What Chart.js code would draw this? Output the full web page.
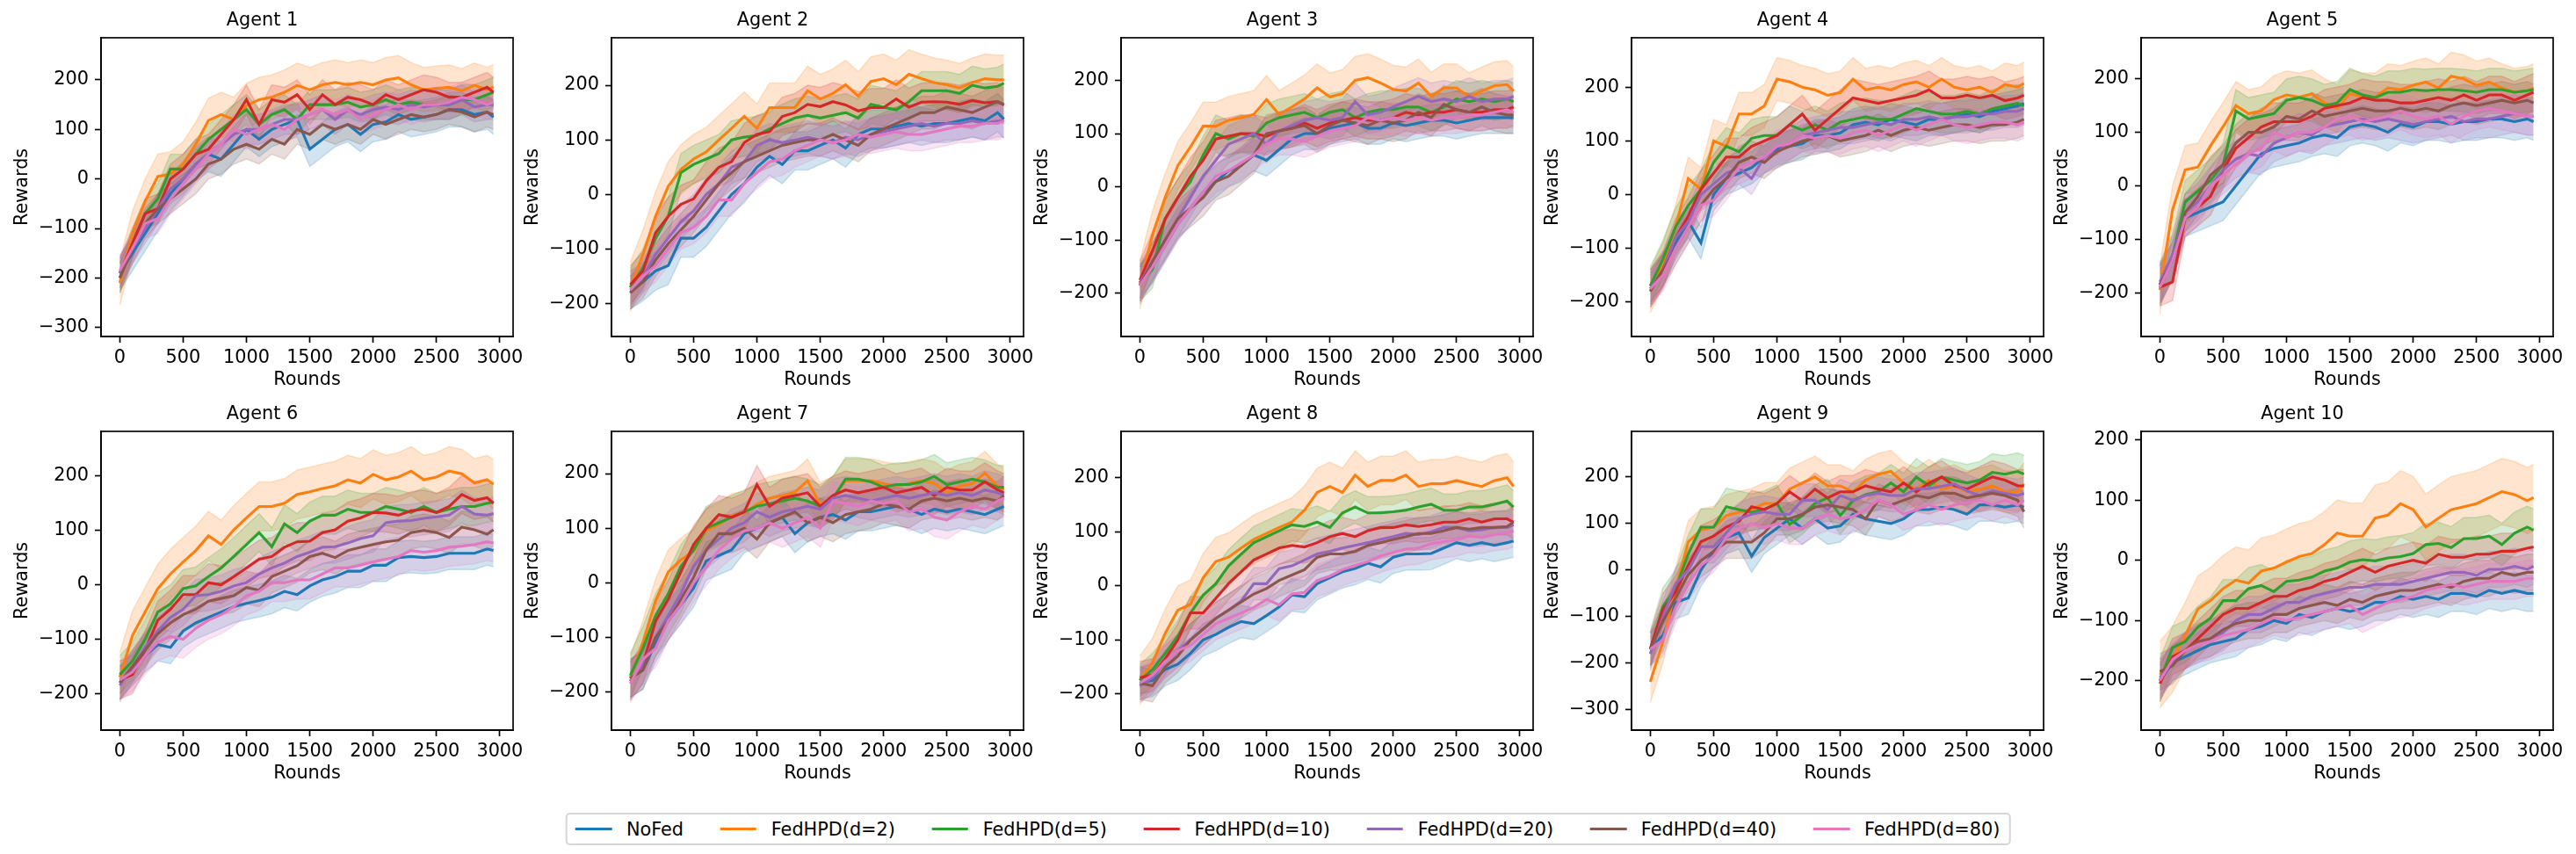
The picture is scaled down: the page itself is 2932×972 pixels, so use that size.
<!DOCTYPE html>
<html>
<head>
<meta charset="utf-8">
<script src="https://cdn.jsdelivr.net/npm/chart.js@4.4.1/dist/chart.umd.min.js"></script>
<style>
  html, body { margin: 0; padding: 0; background: #fff; }
  #page { position: relative; width: 2932px; height: 972px; overflow: hidden; background: #fff; }
  #page canvas { position: absolute; }
  #legend {
    position: absolute; top: 925px; left: 50%; transform: translateX(-50%);
    height: 33px; padding: 0 10px 0 9px; display: flex; align-items: center;
    border: 2px solid #d6d6d6; border-radius: 5px; background: #fff;
    font-family: "DejaVu Sans", sans-serif; font-size: 20.8px; color: #000; white-space: nowrap;
  }
  .item { display: flex; align-items: center; margin-right: 41.6px; }
  .item:last-child { margin-right: 0; }
  .swatch { width: 41.6px; height: 3px; margin-right: 16.6px; }
</style>
</head>
<body>
<div id="page">
  <div id="legend"></div>
</div>
<script>
// x positions (rounds) shared by every series
const rounds = [0,100,200,300,400,500,600,700,800,900,1000,1100,1200,1300,1400,1500,1600,1700,1800,1900,2000,2100,2200,2300,2400,2500,2600,2700,2800,2900,2950];

const seriesNames = ['NoFed', 'FedHPD(d=2)', 'FedHPD(d=5)', 'FedHPD(d=10)', 'FedHPD(d=20)', 'FedHPD(d=40)', 'FedHPD(d=80)'];
const seriesColors = ['#1f77b4', '#ff7f0e', '#2ca02c', '#d62728', '#9467bd', '#8c564b', '#e377c2'];

const agentTitles = ['Agent 1', 'Agent 2', 'Agent 3', 'Agent 4', 'Agent 5', 'Agent 6', 'Agent 7', 'Agent 8', 'Agent 9', 'Agent 10'];
const yMins = [-318, -260, -281, -264, -282, -267, -270, -267, -344, -282];
const yMaxs = [285, 287, 280, 292, 277, 282, 277.5, 286, 298, 214];
const xTicks = [0, 500, 1000, 1500, 2000, 2500, 3000];
const yTicksWide = [-300, -200, -100, 0, 100, 200];
const yTicksMid = [-200, -100, 0, 100, 200];
const yTickSets = [yTicksWide, yTicksMid, yTicksMid, yTicksMid, yTicksMid, yTicksMid, yTicksMid, yTicksMid, yTicksWide, yTicksMid];

// mean rewards, one row per series (NoFed, d=2, d=5, d=10, d=20, d=40, d=80)
const agent1 = [
  [-190,-150,-110,-70,-30,0,30,50,40,70,100,80,100,110,120,60,80,100,110,90,110,115,130,120,125,130,140,140,130,135,125],
  [-210,-110,-45,5,10,30,70,118,130,120,148,160,165,175,189,180,190,195,190,195,190,200,204,190,180,183,185,178,189,180,186],
  [-200,-130,-70,-40,20,20,50,80,100,120,140,110,130,140,120,150,150,150,155,145,150,160,150,155,150,150,150,160,160,170,175],
  [-190,-130,-70,-60,0,20,50,60,90,120,160,110,160,155,170,140,170,150,165,160,150,170,160,170,180,175,165,165,175,185,175],
  [-190,-140,-100,-60,-20,0,30,50,70,90,100,100,110,120,120,130,140,120,140,130,140,145,140,150,145,150,150,160,145,150,150],
  [-200,-140,-90,-60,-40,-20,0,30,40,60,70,60,80,70,100,90,110,100,110,100,120,110,120,130,125,130,140,135,125,135,130],
  [-185,-140,-90,-80,-40,-10,20,50,70,100,90,100,110,100,120,130,140,130,140,120,130,140,150,140,150,150,155,165,160,150,155]
];
const agent2 = [
  [-175,-160,-140,-130,-80,-80,-60,-30,0,20,50,70,55,80,80,90,100,85,110,120,120,125,130,125,130,130,135,140,135,150,138],
  [-170,-110,-40,15,46,65,78,100,121,143,121,159,159,159,190,175,185,201,180,207,212,201,220,212,205,201,195,205,212,210,210],
  [-170,-135,-80,-40,40,55,65,75,100,105,108,120,130,140,145,140,145,150,140,165,160,155,170,190,190,190,185,200,195,198,204],
  [-165,-140,-70,-40,-18,-8,25,50,60,95,110,115,143,150,165,161,170,164,153,159,159,175,160,169,170,169,165,172,168,170,164],
  [-180,-150,-110,-80,-50,-30,0,20,50,60,90,100,95,100,105,100,95,105,100,110,115,120,125,130,125,130,130,135,130,135,135],
  [-180,-160,-120,-90,-65,-40,-10,20,40,60,70,80,90,95,100,100,110,100,90,110,120,130,140,150,150,160,155,150,160,170,165],
  [-175,-150,-130,-100,-70,-60,-40,-10,-10,20,40,60,65,80,90,100,95,100,110,105,110,115,110,110,115,120,125,125,130,130,135]
];
const agent3 = [
  [-180,-150,-110,-70,-40,-10,10,30,40,60,50,70,90,100,100,110,115,120,110,110,120,115,120,125,125,120,125,130,130,130,130],
  [-185,-90,-20,40,75,114,114,125,130,136,164,136,150,165,186,169,175,200,205,195,183,180,195,170,186,186,169,180,190,192,180],
  [-180,-155,-60,-20,10,60,100,90,100,95,120,130,135,140,130,140,145,130,140,145,145,150,150,140,150,165,160,165,160,165,160],
  [-175,-120,-60,-20,20,50,90,95,100,100,95,105,110,120,110,120,125,130,125,125,130,140,135,140,140,145,140,140,145,145,150],
  [-180,-140,-100,-60,-20,20,50,80,90,100,80,105,115,125,130,125,130,160,135,140,150,160,170,160,165,160,170,160,165,165,170],
  [-185,-140,-100,-60,-40,-20,10,20,40,60,100,105,110,115,100,115,125,120,115,125,120,125,140,130,155,145,140,150,140,135,135],
  [-185,-150,-110,-70,-40,-10,20,30,45,60,80,90,90,85,95,105,110,115,130,125,130,125,130,125,130,130,135,135,140,145,140]
];
const agent4 = [
  [-170,-140,-90,-50,-90,0,30,40,50,70,85,90,95,110,110,115,130,135,130,140,135,130,140,140,145,150,145,155,160,165,170],
  [-180,-130,-60,30,10,100,90,150,150,165,215,210,200,195,185,190,215,195,200,195,205,210,200,215,200,195,200,190,205,200,207],
  [-170,-120,-60,-20,10,60,90,80,105,110,110,130,120,130,120,135,140,145,140,140,150,160,155,150,150,155,150,160,165,170,165],
  [-175,-140,-80,-40,10,40,70,70,90,100,110,130,150,120,140,160,180,175,170,175,180,185,195,180,180,185,180,185,175,180,185],
  [-175,-140,-80,-50,0,20,40,50,30,70,80,95,110,115,120,125,125,130,135,130,140,140,145,140,145,145,150,150,155,155,160],
  [-180,-140,-100,-60,-20,10,30,60,70,60,80,90,100,105,110,100,105,110,120,110,120,125,120,125,130,130,125,130,130,135,140],
  [-175,-150,-100,-60,-20,-10,20,50,60,70,90,95,110,105,110,105,115,120,110,120,130,120,130,140,130,125,130,135,135,130,135]
];
const agent5 = [
  [-185,-140,-60,-50,-40,-30,0,30,60,70,75,80,90,95,90,110,115,110,100,115,110,120,120,115,120,120,125,125,120,125,120],
  [-195,-45,30,35,75,111,150,135,140,161,170,166,172,155,145,172,166,166,183,180,188,194,183,205,200,188,194,183,175,178,183],
  [-185,-130,-30,-10,10,40,140,125,130,135,160,165,160,150,155,180,170,165,175,175,180,178,180,180,178,175,180,180,175,178,180],
  [-190,-180,-60,-40,-20,30,70,90,110,120,120,120,130,145,150,155,165,160,160,155,155,160,165,160,170,160,170,170,160,170,175],
  [-180,-130,-50,-30,0,30,50,60,55,80,90,100,95,110,115,120,125,120,125,120,115,120,125,130,120,125,125,130,135,130,130],
  [-185,-140,-50,-20,20,40,80,100,100,110,130,125,140,130,135,140,145,140,140,145,140,145,140,150,155,150,155,160,155,160,155],
  [-190,-140,-60,-40,0,20,40,60,70,100,90,100,100,110,125,130,120,125,130,140,130,125,130,115,130,140,145,140,135,130,130]
];
const agent6 = [
  [-180,-155,-130,-110,-115,-85,-70,-60,-50,-40,-34,-29,-23,-12,-18,-2,9,15,25,25,36,36,50,52,50,52,58,58,58,66,63],
  [-170,-93,-50,-7,20,42,63,90,74,101,123,144,144,150,166,171,177,182,193,187,203,193,198,209,193,198,209,204,187,193,185],
  [-165,-140,-100,-50,-35,-7,-2,15,31,52,74,96,70,112,96,117,128,128,139,133,133,144,139,133,144,133,139,144,144,150,152],
  [-175,-165,-120,-65,-45,-18,-18,4,0,15,31,47,52,69,79,80,96,101,117,123,133,132,128,136,139,133,144,166,155,160,150],
  [-185,-150,-115,-85,-60,-45,-20,-18,-12,-2,4,20,31,40,52,60,69,70,77,85,90,114,117,118,122,125,128,144,130,128,131],
  [-180,-150,-120,-90,-70,-55,-45,-30,-25,-20,-5,-10,15,25,35,52,58,50,63,69,74,79,82,96,100,96,87,106,101,93,101],
  [-175,-160,-130,-105,-95,-100,-80,-65,-55,-40,-20,-12,4,4,9,9,20,31,31,36,42,47,52,63,60,63,69,71,74,79,77]
];
const agent7 = [
  [-175,-160,-110,-70,-40,-10,40,50,60,90,100,110,120,90,110,120,125,115,130,130,135,140,135,125,135,130,135,130,125,135,140],
  [-175,-109,-33,20,42,58,96,107,123,128,144,155,160,166,187,144,155,187,187,187,182,177,182,187,182,166,177,182,201,177,171],
  [-170,-120,-60,-20,30,60,100,110,120,130,140,145,150,155,150,140,155,190,190,185,175,180,180,185,195,180,185,190,185,175,175],
  [-180,-150,-70,-30,20,70,100,125,120,130,180,140,155,160,165,140,160,170,165,170,175,165,170,175,160,175,170,170,185,170,165],
  [-180,-150,-100,-60,-20,30,60,80,100,110,130,120,130,135,140,135,155,160,155,150,155,160,155,160,165,160,165,160,170,165,160],
  [-175,-160,-100,-70,-30,10,60,90,90,100,80,110,120,130,110,120,110,125,130,135,145,140,135,150,155,150,155,150,155,150,160],
  [-185,-140,-120,-70,-40,0,30,60,80,95,100,110,100,110,120,100,150,145,140,150,145,150,130,135,120,115,130,140,135,150,155]
];
const agent8 = [
  [-180,-175,-155,-145,-125,-100,-90,-77,-66,-70,-55,-39,-17,-20,4,15,26,32,42,35,53,59,59,60,70,80,75,80,75,80,83],
  [-175,-142,-88,-45,-34,15,45,53,70,86,97,108,118,140,173,184,173,205,184,195,195,205,184,189,189,195,189,184,195,200,184],
  [-175,-155,-125,-93,-50,-17,4,37,59,80,91,102,113,110,118,108,135,146,135,135,137,140,146,151,140,140,146,146,151,157,146],
  [-170,-165,-135,-100,-50,-50,-23,4,26,48,59,70,75,72,80,91,97,91,102,108,108,113,110,113,118,118,124,118,124,124,118],
  [-185,-170,-140,-120,-100,-80,-60,-45,-28,4,4,32,37,48,59,64,70,75,80,86,91,97,95,100,108,108,102,104,108,108,113],
  [-180,-185,-150,-130,-100,-80,-60,-45,-30,-15,-5,10,20,30,53,59,59,64,75,80,86,91,97,97,102,108,105,108,108,110,118],
  [-180,-165,-140,-120,-110,-90,-70,-60,-50,-40,-25,-35,-15,-12,10,18,30,38,45,55,62,68,70,78,82,85,92,90,95,98,102]
];
const agent9 = [
  [-170,-140,-70,-60,0,40,70,80,30,70,90,110,90,110,90,95,120,110,105,100,110,130,130,135,130,120,140,140,135,140,135],
  [-240,-154,-40,61,86,92,117,124,130,143,143,174,187,200,181,181,168,193,206,212,187,174,193,174,181,168,174,181,168,168,185],
  [-170,-78,-40,35,92,92,136,130,124,130,143,98,117,143,155,117,149,162,168,187,168,200,181,200,193,187,193,210,206,212,206],
  [-170,-85,-47,10,61,73,92,105,136,130,143,168,149,174,155,168,168,181,174,168,187,168,187,200,181,174,187,200,193,181,181],
  [-180,-100,-30,0,50,50,80,110,120,125,120,120,150,150,130,160,150,160,165,160,160,175,175,180,185,170,160,170,165,160,165],
  [-170,-110,-60,-10,20,40,60,60,60,80,110,110,120,135,140,135,130,110,150,140,150,160,155,165,165,155,160,165,160,150,125],
  [-170,-150,-80,-30,10,30,70,90,100,90,100,90,90,110,120,110,115,130,150,140,120,130,140,130,140,145,150,140,150,140,150]
];
const agent10 = [
  [-200,-170,-160,-150,-140,-135,-130,-115,-110,-100,-105,-90,-95,-85,-80,-85,-80,-70,-70,-60,-65,-60,-65,-55,-55,-60,-50,-55,-50,-55,-55],
  [-190,-164,-125,-81,-67,-47,-33,-38,-18,-13,-3,6,11,26,45,40,40,70,75,94,84,55,70,84,89,94,104,114,109,99,104],
  [-200,-145,-135,-111,-96,-67,-67,-47,-42,-52,-35,-33,-28,-18,-13,-3,1,-1,4,6,11,26,28,21,36,36,40,26,45,55,50],
  [-205,-160,-150,-130,-110,-90,-80,-80,-70,-60,-60,-50,-45,-35,-30,-20,-10,-20,-10,-5,0,-5,10,5,5,10,10,15,15,20,22],
  [-195,-170,-150,-140,-130,-120,-100,-90,-90,-80,-70,-70,-60,-55,-50,-45,-45,-40,-40,-40,-35,-30,-25,-20,-20,-25,-15,-15,-10,-15,-10],
  [-185,-175,-150,-135,-130,-115,-105,-100,-100,-90,-90,-80,-75,-70,-75,-65,-70,-60,-55,-50,-50,-45,-40,-45,-35,-30,-30,-20,-25,-20,-20],
  [-200,-165,-150,-140,-135,-125,-120,-115,-105,-95,-100,-95,-90,-85,-80,-75,-90,-80,-70,-65,-60,-50,-45,-40,-45,-40,-35,-35,-35,-30,-30]
];

// half-width of the shaded band for each series, per agent
const agent1Spread = [35, 45, 30, 30, 30, 30, 30];
const agent2Spread = [35, 45, 35, 35, 30, 30, 30];
const agent3Spread = [30, 45, 35, 35, 35, 35, 30];
const agent4Spread = [30, 40, 35, 35, 30, 30, 30];
const agent5Spread = [35, 45, 40, 35, 35, 35, 35];
const agent6Spread = [30, 45, 35, 35, 30, 30, 35];
const agent7Spread = [35, 40, 40, 35, 35, 35, 35];
const agent8Spread = [30, 45, 30, 30, 30, 30, 30];
const agent9Spread = [35, 45, 40, 35, 35, 35, 35];
const agent10Spread = [30, 55, 35, 30, 30, 30, 30];

const agents = [agent1, agent2, agent3, agent4, agent5, agent6, agent7, agent8, agent9, agent10];
const spreads = [agent1Spread, agent2Spread, agent3Spread, agent4Spread, agent5Spread, agent6Spread, agent7Spread, agent8Spread, agent9Spread, agent10Spread];

Chart.defaults.font.family = '"DejaVu Sans", sans-serif';
Chart.defaults.font.size = 20.8;
Chart.defaults.color = '#000';

const FONT = 20.8;
const SPINE = 1.67;

function withAlpha(hex, a) {
    const n = parseInt(hex.slice(1), 16);
    return 'rgba(' + ((n >> 16) & 255) + ',' + ((n >> 8) & 255) + ',' + (n & 255) + ',' + a + ')';
}

function fmtTick(v) {
    return String(v).replace('-', '\u2212');
}

// Draw the full axes frame (matplotlib spines)
const framePlugin = {
    id: 'frame',
    afterDatasetsDraw(chart) {
        const a = chart.chartArea;
        const ctx = chart.ctx;
        ctx.save();
        ctx.strokeStyle = '#000';
        ctx.lineWidth = SPINE;
        ctx.strokeRect(a.left, a.top, a.right - a.left, a.bottom - a.top);
        ctx.restore();
    }
};

function buildDatasets(k) {
    const rows = agents[k];
    const spread = spreads[k];
    const lines = [];
    const bands = [];
    // index 0 is drawn on top, so put the last series first
    for (let s = rows.length - 1; s >= 0; s--) {
        const color = seriesColors[s];
        lines.push({
            label: seriesNames[s],
            data: rows[s].map((v, i) => ({ x: rounds[i], y: v })),
            borderColor: color,
            borderWidth: 3.1,
            pointRadius: 0,
            tension: 0,
            fill: false
        });
        bands.push({
            label: seriesNames[s] + ' upper',
            data: rows[s].map((v, i) => ({ x: rounds[i], y: v + spread[s] })),
            borderColor: withAlpha(color, 0.2),
            borderWidth: 1.5,
            pointRadius: 0,
            tension: 0,
            fill: false
        });
        bands.push({
            label: seriesNames[s] + ' lower',
            data: rows[s].map((v, i) => ({ x: rounds[i], y: v - spread[s] })),
            borderColor: withAlpha(color, 0.2),
            backgroundColor: withAlpha(color, 0.2),
            borderWidth: 1.5,
            pointRadius: 0,
            tension: 0,
            fill: '-1'
        });
    }
    return lines.concat(bands);
}

function makeChart(k) {
    const col = k % 5;
    const row = Math.floor(k / 5);
    const axesLeft = 115 + 580.5 * col;
    const axesTop = row === 0 ? 43 : 491;

    const canvas = document.createElement('canvas');
    canvas.width = 601;
    canvas.height = 460;
    canvas.style.left = (axesLeft - 102) + 'px';
    canvas.style.top = (axesTop - 40) + 'px';
    document.getElementById('page').appendChild(canvas);

    new Chart(canvas, {
        type: 'line',
        data: { datasets: buildDatasets(k) },
        options: {
            responsive: false,
            animation: false,
            devicePixelRatio: 1,
            layout: { padding: { left: 0, right: 30, top: 0, bottom: 0 } },
            plugins: {
                legend: { display: false },
                tooltip: { enabled: false },
                title: {
                    display: true,
                    text: agentTitles[k],
                    color: '#000',
                    font: { size: FONT, weight: 'normal', lineHeight: 1.2 },
                    padding: { top: 8, bottom: 7 }
                }
            },
            scales: {
                x: {
                    type: 'linear',
                    min: -148,
                    max: 3105,
                    afterBuildTicks(scale) {
                        scale.ticks = xTicks.map(v => ({ value: v }));
                    },
                    ticks: { callback: fmtTick, padding: 5, maxRotation: 0, autoSkip: false, color: '#000' },
                    grid: { drawOnChartArea: false, tickLength: 7, tickWidth: SPINE, tickColor: '#000' },
                    border: { display: true, color: '#000', width: SPINE },
                    title: { display: true, text: 'Rounds', color: '#000', padding: { top: 0, bottom: 18 } },
                    afterFit(scale) { scale.height = 80; }
                },
                y: {
                    min: yMins[k],
                    max: yMaxs[k],
                    afterBuildTicks(scale) {
                        scale.ticks = yTickSets[k].map(v => ({ value: v }));
                    },
                    ticks: { callback: fmtTick, padding: 7, autoSkip: false, color: '#000' },
                    grid: { drawOnChartArea: false, tickLength: 7, tickWidth: SPINE, tickColor: '#000' },
                    border: { display: true, color: '#000', width: SPINE },
                    title: { display: true, text: 'Rewards', color: '#000', padding: 0 },
                    afterFit(scale) { scale.width = 102; }
                }
            }
        },
        plugins: [framePlugin]
    });
}

for (let k = 0; k < agents.length; k++) {
    makeChart(k);
}

// Shared legend at the bottom
const legend = document.getElementById('legend');
seriesNames.forEach((name, s) => {
    const item = document.createElement('div');
    item.className = 'item';
    const sw = document.createElement('span');
    sw.className = 'swatch';
    sw.style.background = seriesColors[s];
    const txt = document.createElement('span');
    txt.textContent = name;
    item.appendChild(sw);
    item.appendChild(txt);
    legend.appendChild(item);
});
</script>
</body>
</html>
